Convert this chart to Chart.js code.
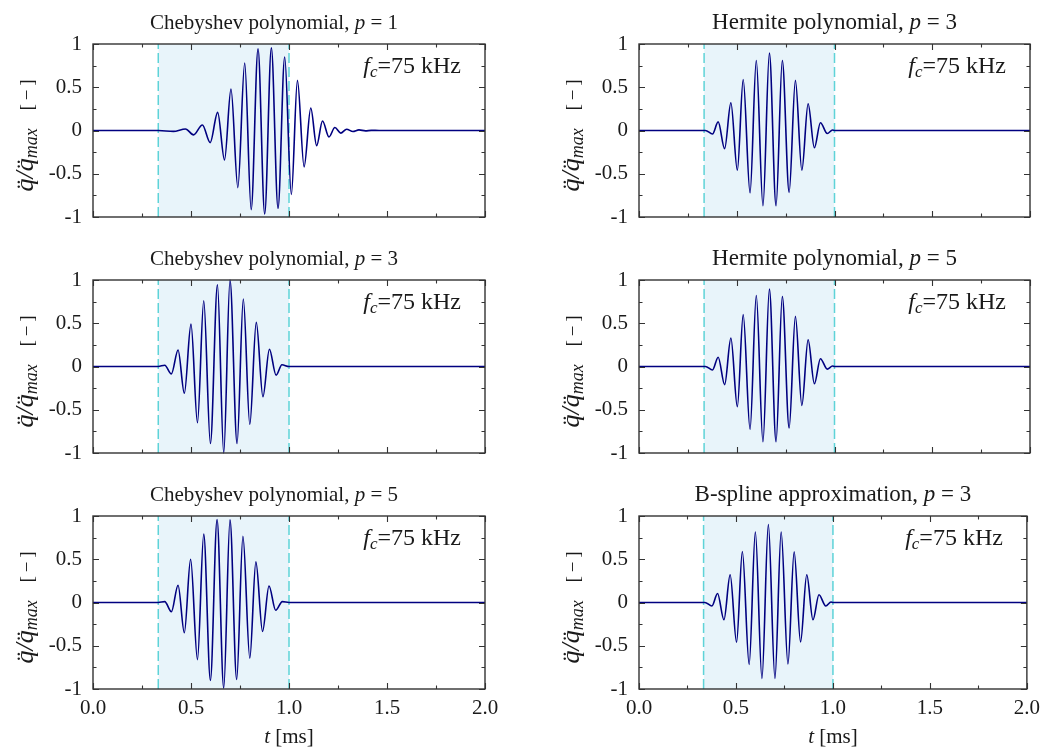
<!DOCTYPE html>
<html>
<head>
<meta charset="utf-8">
<script src="https://cdn.jsdelivr.net/npm/chart.js@4.4.1/dist/chart.umd.min.js"></script>
<style>
  body { margin: 0; background: #fff; }
  #wrap { position: relative; width: 1047px; height: 749px; overflow: hidden; background: #fff; }
  #wrap canvas { position: absolute; }
</style>
</head>
<body>
<div id="wrap"></div>
<script>
// time axis in ms, values are normalised acceleration q''/q''max
const xTickValues = [0, 0.5, 1, 1.5, 2];
const xTickLabels = ['0.0', '0.5', '1.0', '1.5', '2.0'];
const yTickValues = [-1, -0.5, 0, 0.5, 1];
const yTickLabels = ['-1', '-0.5', '0', '0.5', '1'];

// excitation window (shaded)
const windowStart = 0.333;
const windowEnd = 1.0;

const panelNames = ['Chebyshev polynomial', 'Hermite polynomial', 'Chebyshev polynomial',
                    'Hermite polynomial', 'Chebyshev polynomial', 'B-spline approximation'];
const panelOrders = [1, 3, 3, 5, 5, 3];
const centerFreqLabel = '=75 kHz';

const chebP1Time = [0, 0.333, 0.41, 0.472, 0.513, 0.558, 0.598, 0.636, 0.671, 0.704, 0.739, 0.774,
  0.807, 0.842, 0.876, 0.910, 0.944, 0.978, 1.012, 1.043, 1.077, 1.111, 1.141, 1.171, 1.204,
  1.234, 1.264, 1.294, 1.326, 1.357, 1.39, 1.42, 1.46, 2.0];
const chebP1Accel = [0, 0, -0.01, 0.018, -0.05, 0.064, -0.14, 0.21, -0.34, 0.48, -0.66, 0.78,
  -0.915, 0.945, -0.965, 0.955, -0.9, 0.85, -0.74, 0.58, -0.42, 0.26, -0.175, 0.11, -0.074,
  0.034, -0.03, 0.015, -0.012, 0.007, -0.004, 0.002, 0, 0];

const chebP3Time = [0, 0.333, 0.366, 0.400, 0.434, 0.466, 0.500, 0.533, 0.565, 0.599, 0.635, 0.667,
  0.699, 0.735, 0.767, 0.800, 0.833, 0.867, 0.900, 0.934, 0.964, 1.0, 2.0];
const chebP3Accel = [0, 0, 0.015, -0.085, 0.19, -0.31, 0.49, -0.65, 0.76, -0.89, 0.945, -1.0,
  1.0, -0.89, 0.78, -0.67, 0.51, -0.35, 0.2, -0.1, 0.02, 0, 0];

const chebP5Time = [0, 0.333, 0.366, 0.400, 0.434, 0.466, 0.498, 0.533, 0.565, 0.599, 0.633, 0.667,
  0.699, 0.733, 0.765, 0.800, 0.831, 0.865, 0.898, 0.932, 0.966, 1.0, 2.0];
const chebP5Accel = [0, 0, 0.01, -0.107, 0.2, -0.35, 0.5, -0.66, 0.79, -0.9, 0.96, -0.99,
  0.955, -0.89, 0.765, -0.645, 0.47, -0.335, 0.19, -0.09, 0.01, 0, 0];

const hermTime = [0, 0.34, 0.376, 0.405, 0.438, 0.470, 0.503, 0.533, 0.568, 0.600, 0.634, 0.667,
  0.701, 0.733, 0.768, 0.800, 0.833, 0.865, 0.897, 0.928, 0.963, 0.99, 1.0, 2.0];
const hermP3Accel = [0, 0, -0.04, 0.1, -0.21, 0.32, -0.46, 0.59, -0.72, 0.81, -0.87, 0.895,
  -0.87, 0.81, -0.715, 0.58, -0.46, 0.31, -0.2, 0.09, -0.035, 0.005, 0, 0];
const hermP5Accel = [0, 0, -0.04, 0.107, -0.21, 0.33, -0.465, 0.6, -0.726, 0.82, -0.87, 0.895,
  -0.87, 0.81, -0.71, 0.58, -0.45, 0.31, -0.2, 0.09, -0.03, 0.005, 0, 0];
const bsplP3Accel = [0, 0, -0.04, 0.104, -0.2, 0.32, -0.46, 0.59, -0.715, 0.815, -0.877, 0.9,
  -0.877, 0.815, -0.71, 0.585, -0.455, 0.32, -0.2, 0.09, -0.04, 0.005, 0, 0];

const panelTimes = [chebP1Time, hermTime, chebP3Time, hermTime, chebP5Time, hermTime];
const panelAccels = [chebP1Accel, hermP3Accel, chebP3Accel, hermP5Accel, chebP5Accel, bsplP3Accel];

const serif = '"Liberation Serif", "DejaVu Serif", serif';
const lineColor = '#000080';
const bandColor = '#e8f4fa';
const dashColor = '#5ed3d8';
const axisColor = '#333333';
const textColor = '#1a1a1a';

const colLeft = [93, 639];
const colWidth = [392, 391];
const titleShift = [-15, 0];
const titleSize = [21, 23];
const rowTop = [44, 280, 516];
const plotHeight = 173;

// parts: [text, font, baseline shift, extra gap before]
function drawRich(ctx, parts, x, y, align) {
    let total = 0;
    parts.forEach(p => { ctx.font = p[1]; total += ctx.measureText(p[0]).width + (p[3] || 0); });
    let cx = align === 'right' ? x - total : align === 'center' ? x - total / 2 : x;
    ctx.textAlign = 'left';
    ctx.textBaseline = 'alphabetic';
    parts.forEach(p => {
        ctx.font = p[1];
        cx += p[3] || 0;
        ctx.fillText(p[0], cx, y + (p[2] || 0));
        cx += ctx.measureText(p[0]).width;
    });
}

const decorPlugin = {
    id: 'decor',
    afterDraw(chart, args, opts) {
        const {ctx, chartArea: a, scales: {x, y}} = chart;
        ctx.save();
        ctx.strokeStyle = axisColor;
        ctx.lineWidth = 1.4;
        ctx.strokeRect(a.left, a.top, a.right - a.left, a.bottom - a.top);

        // inward ticks on all four sides
        ctx.lineWidth = 1.1;
        ctx.beginPath();
        for (let i = 0; i <= 8; i++) {
            const len = i % 2 === 0 ? 6 : 3.5;
            const px = Math.round(x.getPixelForValue(i * 0.25)) + 0.5;
            ctx.moveTo(px, a.bottom); ctx.lineTo(px, a.bottom - len);
            ctx.moveTo(px, a.top); ctx.lineTo(px, a.top + len);
        }
        for (let i = 0; i <= 8; i++) {
            const len = i % 2 === 0 ? 6 : 3.5;
            const py = Math.round(y.getPixelForValue(-1 + i * 0.25)) + 0.5;
            ctx.moveTo(a.left, py); ctx.lineTo(a.left + len, py);
            ctx.moveTo(a.right, py); ctx.lineTo(a.right - len, py);
        }
        ctx.stroke();

        ctx.fillStyle = textColor;
        const midX = (a.left + a.right) / 2;
        const ts = opts.titleSize;
        // panel title
        drawRich(ctx, [
            [opts.name + ', ', ts + 'px ' + serif],
            ['p', 'italic ' + ts + 'px ' + serif],
            [' = ' + opts.order, ts + 'px ' + serif]
        ], midX + opts.titleShift, a.top - 15.5, 'center');

        // centre frequency label
        drawRich(ctx, [
            ['f', 'italic 24px ' + serif],
            ['c', 'italic 17px ' + serif, 4],
            [centerFreqLabel, '24px ' + serif]
        ], a.right - 24, a.top + 29, 'right');

        // y axis title, rotated
        ctx.save();
        ctx.translate(a.left - 60, (a.top + a.bottom) / 2 + 5);
        ctx.rotate(-Math.PI / 2);
        drawRich(ctx, [
            ['q\u0308/q\u0308', 'italic 26px ' + serif],
            ['max', 'italic 18px ' + serif, 4],
            ['[\u2009\u2212\u2009]', '19px ' + serif, 0, 18]
        ], 0, 0, 'center');
        ctx.restore();

        if (opts.showX) {
            drawRich(ctx, [
                ['t', 'italic 21px ' + serif],
                [' [ms]', '21px ' + serif]
            ], midX, a.bottom + 54, 'center');
        }
        ctx.restore();
    }
};

const wrap = document.getElementById('wrap');

panelNames.forEach((name, i) => {
    const col = i % 2;
    const row = Math.floor(i / 2);
    const left = colLeft[col] - 93;
    const top = rowTop[row] - 44;
    const width = col === 0 ? 525 : 1047 - left;
    const height = row === 2 ? 749 - top : 279;
    const bottomRoom = height - 44 - plotHeight;
    const showX = row === 2;

    const canvas = document.createElement('canvas');
    canvas.width = width;
    canvas.height = height;
    canvas.style.left = left + 'px';
    canvas.style.top = top + 'px';
    wrap.appendChild(canvas);

    const times = panelTimes[i];
    const accel = panelAccels[i];

    new Chart(canvas, {
        type: 'line',
        data: {
            datasets: [
                {
                    data: times.map((t, k) => ({x: t, y: accel[k]})),
                    borderColor: lineColor,
                    borderWidth: 1.6,
                    pointRadius: 0,
                    cubicInterpolationMode: 'monotone',
                    fill: false,
                    clip: 4,
                    order: 1
                },
                {
                    data: [{x: windowStart, y: -1}, {x: windowStart, y: 1}],
                    borderColor: dashColor,
                    borderWidth: 1.5,
                    borderDash: [10, 4],
                    pointRadius: 0,
                    fill: false,
                    order: 2
                },
                {
                    data: [{x: windowEnd, y: -1}, {x: windowEnd, y: 1}],
                    borderColor: dashColor,
                    borderWidth: 1.5,
                    borderDash: [10, 4],
                    pointRadius: 0,
                    fill: false,
                    order: 2
                },
                {
                    data: [{x: windowStart, y: 1}, {x: windowEnd, y: 1}],
                    borderWidth: 0,
                    borderColor: 'rgba(0,0,0,0)',
                    backgroundColor: bandColor,
                    pointRadius: 0,
                    fill: {value: -1},
                    order: 3
                }
            ]
        },
        options: {
            responsive: false,
            animation: false,
            devicePixelRatio: 1,
            layout: {
                padding: {left: 0, top: 44, right: width - 93 - colWidth[col], bottom: 0}
            },
            plugins: {
                legend: {display: false},
                tooltip: {enabled: false},
                decor: {name: name, order: panelOrders[i], showX: showX,
                        titleShift: titleShift[col], titleSize: titleSize[col]}
            },
            scales: {
                x: {
                    type: 'linear',
                    min: 0,
                    max: 2,
                    grid: {display: false, drawTicks: false},
                    border: {display: false},
                    afterFit(scale) { scale.height = bottomRoom; },
                    ticks: {
                        display: showX,
                        autoSkip: false,
                        stepSize: 0.5,
                        padding: 7,
                        color: textColor,
                        font: {family: serif, size: 21},
                        maxRotation: 0,
                        callback: v => xTickLabels[xTickValues.indexOf(v)]
                    }
                },
                y: {
                    min: -1,
                    max: 1,
                    grid: {display: false, drawTicks: false},
                    border: {display: false},
                    afterFit(scale) { scale.width = 93; },
                    ticks: {
                        stepSize: 0.5,
                        padding: 11,
                        color: textColor,
                        font: {family: serif, size: 21},
                        callback: v => yTickLabels[yTickValues.indexOf(v)]
                    }
                }
            }
        },
        plugins: [decorPlugin]
    });
});
</script>
</body>
</html>
